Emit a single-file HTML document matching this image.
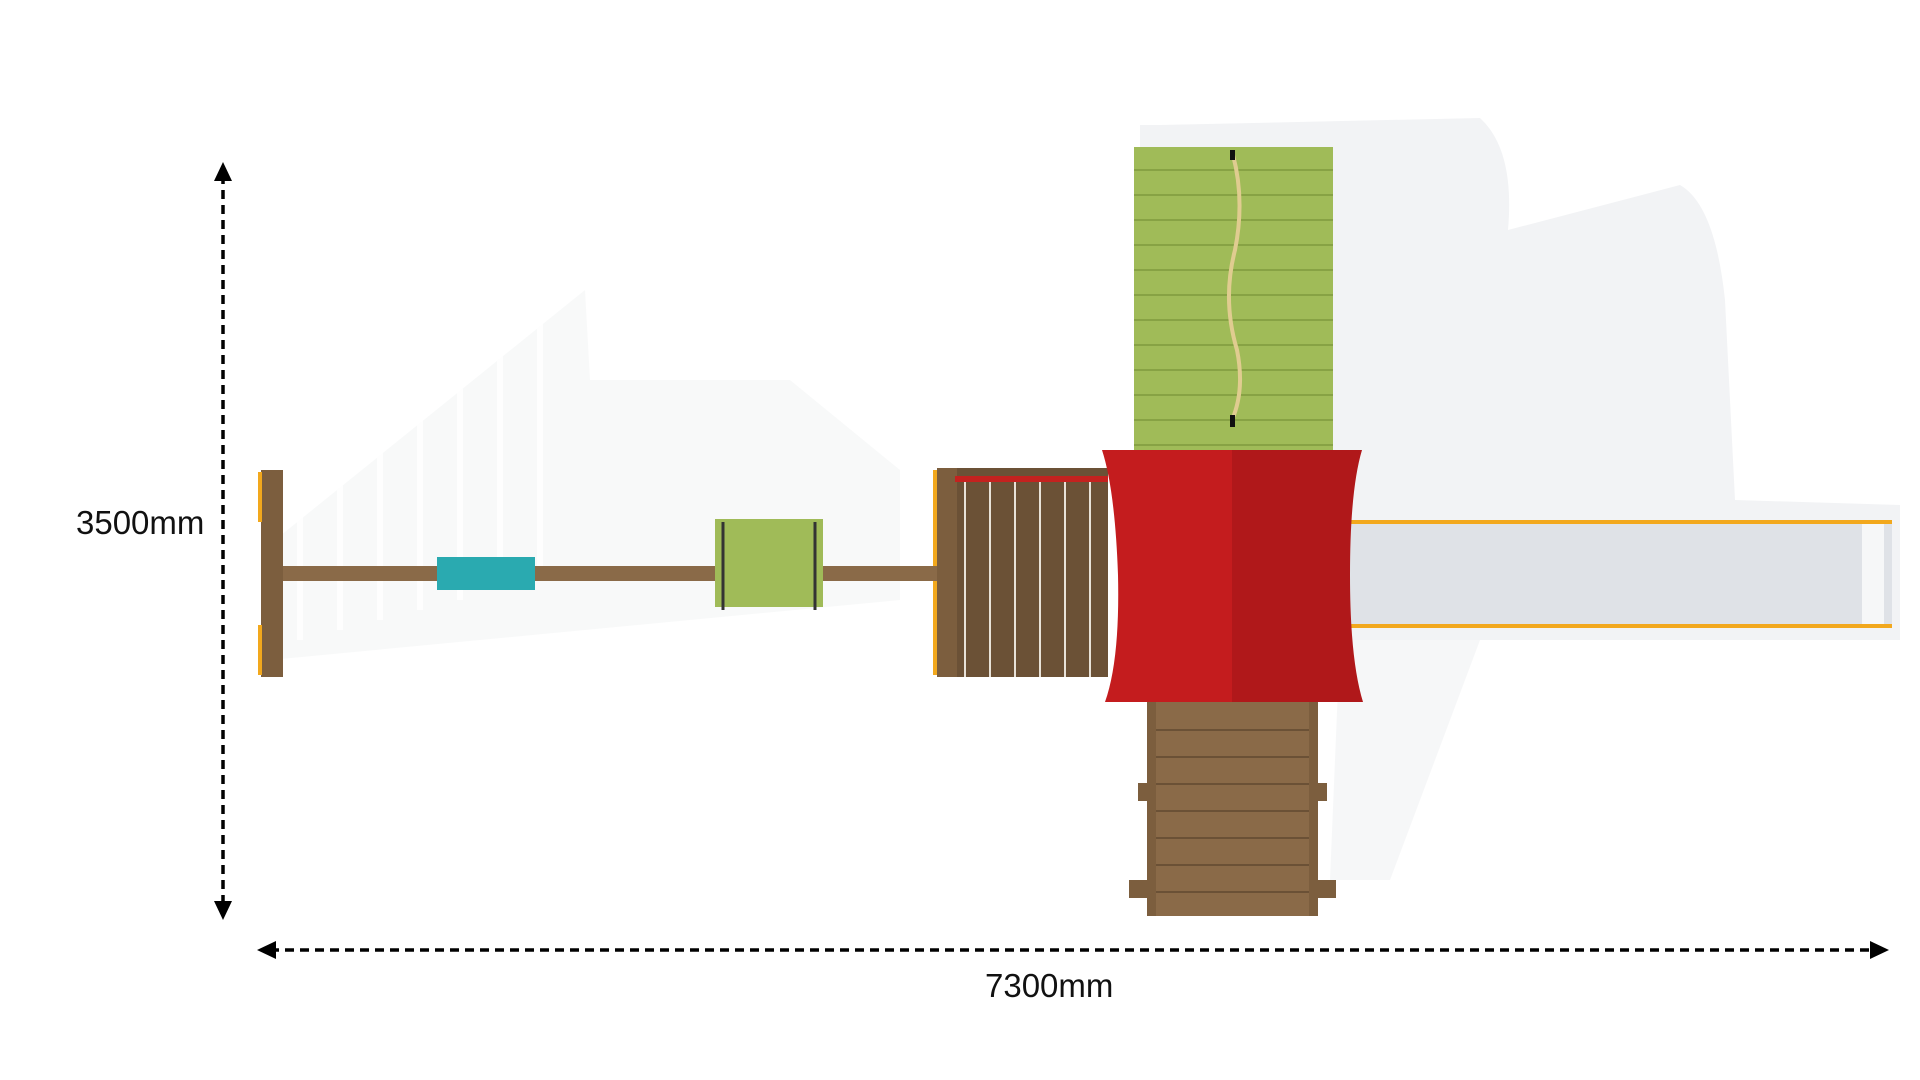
<!DOCTYPE html>
<html><head><style>
body{margin:0;width:1920px;height:1080px;background:#fff;position:relative;overflow:hidden;font-family:"Liberation Sans",sans-serif}
div{position:absolute;box-sizing:border-box}
.t{font-size:33px;color:#111}
</style></head><body>
<svg width="1920" height="1080" style="position:absolute;left:0;top:0">
<g fill="#f2f3f5">
<path d="M1160 125 L1480 118 Q1515 150 1508 230 L1680 185 Q1715 205 1725 300 L1735 500 L1900 505 L1900 640 L1350 640 L1300 700 L1140 700 L1140 125Z"/>
<path d="M1340 640 L1480 640 L1390 880 L1330 880Z" opacity="0.7"/>
</g>
<g fill="#f5f6f7">
<path d="M275 540 L585 290 L590 380 L790 380 L900 470 L900 600 L270 660Z" opacity="0.7"/>
</g>
<g stroke="#fff" stroke-width="6" opacity="0.9">
<line x1="300" y1="500" x2="300" y2="640"/><line x1="340" y1="470" x2="340" y2="630"/><line x1="380" y1="440" x2="380" y2="620"/><line x1="420" y1="410" x2="420" y2="610"/><line x1="460" y1="380" x2="460" y2="600"/><line x1="500" y1="350" x2="500" y2="590"/><line x1="540" y1="320" x2="540" y2="580"/>
</g>
<line x1="223" y1="175" x2="223" y2="908" stroke="#000" stroke-width="3.5" stroke-dasharray="9,6"/>
<polygon points="223,162 214,181 232,181" fill="#000"/>
<polygon points="223,920 214,901 232,901" fill="#000"/>
<line x1="270" y1="950" x2="1876" y2="950" stroke="#000" stroke-width="3.5" stroke-dasharray="9,6"/>
<polygon points="257,950 276,941 276,959" fill="#000"/>
<polygon points="1889,950 1870,941 1870,959" fill="#000"/>
<rect x="1347" y="520" width="545" height="108" fill="#dfe2e7"/>
<rect x="1347" y="520" width="545" height="4" fill="#f2a81d"/>
<rect x="1347" y="624" width="545" height="4" fill="#f2a81d"/>
<rect x="1862" y="524" width="22" height="100" fill="#f6f7f8"/>
<rect x="1134" y="147" width="199" height="375" fill="#a0bb58"/>
<g stroke="#7f9a3e" stroke-width="1.5">
<line x1="1134" y1="170" x2="1333" y2="170"/><line x1="1134" y1="195" x2="1333" y2="195"/><line x1="1134" y1="220" x2="1333" y2="220"/><line x1="1134" y1="245" x2="1333" y2="245"/><line x1="1134" y1="270" x2="1333" y2="270"/><line x1="1134" y1="295" x2="1333" y2="295"/><line x1="1134" y1="320" x2="1333" y2="320"/><line x1="1134" y1="345" x2="1333" y2="345"/><line x1="1134" y1="370" x2="1333" y2="370"/><line x1="1134" y1="395" x2="1333" y2="395"/><line x1="1134" y1="420" x2="1333" y2="420"/><line x1="1134" y1="445" x2="1333" y2="445"/><line x1="1134" y1="470" x2="1333" y2="470"/><line x1="1134" y1="495" x2="1333" y2="495"/>
</g>
<path d="M1233 155 Q1245 200 1235 250 Q1222 300 1237 350 Q1245 390 1232 420" stroke="#e0cc90" stroke-width="4" fill="none"/>
<rect x="1230" y="150" width="5" height="10" fill="#111"/><rect x="1230" y="415" width="5" height="12" fill="#111"/>
<rect x="937" y="468" width="171" height="209" fill="#6b5136"/>
<g stroke="#e8e2d8" stroke-width="2"><line x1="965" y1="482" x2="965" y2="677"/><line x1="990" y1="482" x2="990" y2="677"/><line x1="1015" y1="482" x2="1015" y2="677"/><line x1="1040" y1="482" x2="1040" y2="677"/><line x1="1065" y1="482" x2="1065" y2="677"/><line x1="1090" y1="482" x2="1090" y2="677"/></g>
<rect x="937" y="468" width="20" height="209" fill="#7c5e3e"/>
<rect x="955" y="476" width="153" height="6" fill="#c4221f"/>
<rect x="933" y="470" width="4" height="205" fill="#f2a81d"/>
<rect x="1147" y="702" width="171" height="214" fill="#8a6a48"/>
<g stroke="#6b5136" stroke-width="2"><line x1="1147" y1="730" x2="1318" y2="730"/><line x1="1147" y1="757" x2="1318" y2="757"/><line x1="1147" y1="784" x2="1318" y2="784"/><line x1="1147" y1="811" x2="1318" y2="811"/><line x1="1147" y1="838" x2="1318" y2="838"/><line x1="1147" y1="865" x2="1318" y2="865"/><line x1="1147" y1="892" x2="1318" y2="892"/></g>
<rect x="1147" y="702" width="9" height="214" fill="#7c5e3e"/><rect x="1309" y="702" width="9" height="214" fill="#7c5e3e"/>
<rect x="1138" y="783" width="9" height="18" fill="#7c5e3e"/><rect x="1318" y="783" width="9" height="18" fill="#7c5e3e"/>
<rect x="1129" y="880" width="18" height="18" fill="#7c5e3e"/><rect x="1318" y="880" width="18" height="18" fill="#7c5e3e"/>
<path d="M1102 450 L1232 450 L1232 702 L1105 702 Q1120 660 1118 575 Q1115 490 1102 450Z" fill="#c41c1e"/>
<path d="M1232 450 L1362 450 Q1350 490 1350 575 Q1350 660 1363 702 L1232 702Z" fill="#b0181a"/>
<rect x="263" y="566" width="674" height="15" fill="#8a6a48"/>
<rect x="261" y="470" width="22" height="207" fill="#7c5e3e"/>
<rect x="258" y="472" width="4" height="50" fill="#f2a81d"/><rect x="258" y="625" width="4" height="50" fill="#f2a81d"/>
<rect x="437" y="557" width="98" height="33" fill="#2aaab0"/>
<rect x="715" y="519" width="108" height="88" fill="#a0bb58"/>
<line x1="723" y1="522" x2="723" y2="610" stroke="#333" stroke-width="3"/><line x1="815" y1="522" x2="815" y2="610" stroke="#333" stroke-width="3"/>
</svg>
<div class="t" style="left:76px;top:504px">3500mm</div>
<div class="t" style="left:985px;top:967px">7300mm</div>
</body></html>
